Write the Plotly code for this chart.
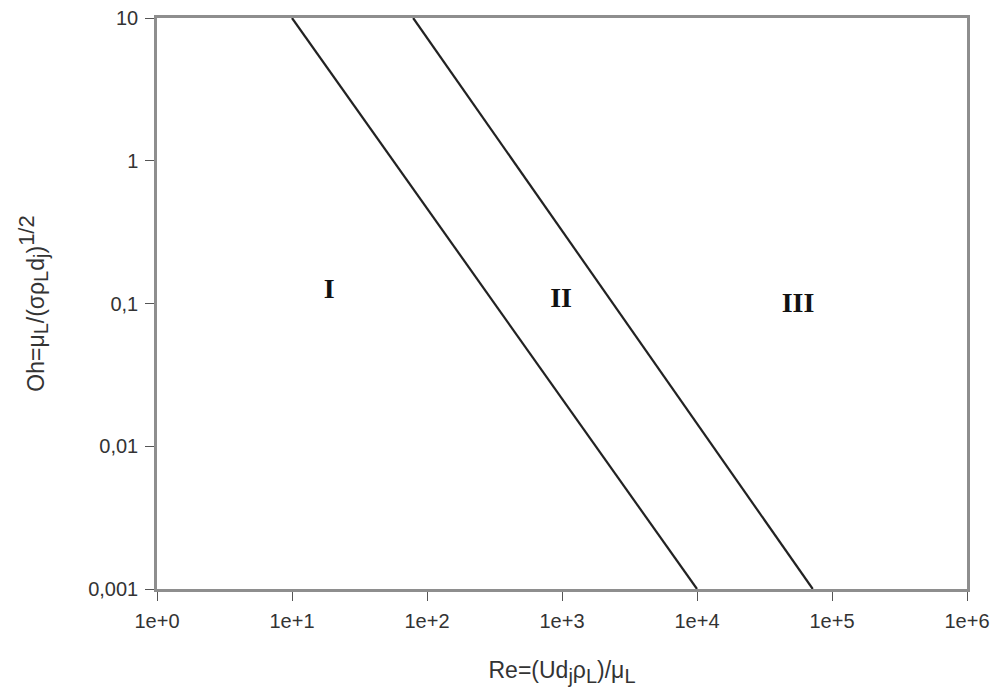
import plotly.graph_objects as go

# Regime boundaries on the Ohnesorge chart (Re, Oh endpoints)
boundary1_re = [10, 1.0e4]
boundary1_oh = [10, 0.001]
boundary2_re = [79, 7.2e4]
boundary2_oh = [10, 0.001]

# Regime labels
regime_names = ["I", "II", "III"]
regime_re = [18.9, 985, 5.6e4]
regime_oh = [0.122, 0.106, 0.0975]

x_tickvals = [1, 10, 100, 1e3, 1e4, 1e5, 1e6]
x_ticktext = ["1e+0", "1e+1", "1e+2", "1e+3", "1e+4", "1e+5", "1e+6"]
y_tickvals = [0.001, 0.01, 0.1, 1, 10]
y_ticktext = ["0,001", "0,01", "0,1", "1", "10"]

SUB = "<sub><span style='font-size:20px'>{}</span></sub>"
x_title = "Re=(Ud" + SUB.format("j") + "ρ" + SUB.format("L") + ")/μ" + SUB.format("L")
y_title = ("Oh=μ" + SUB.format("L") + "/(σρ" + SUB.format("L") + "d" + SUB.format("j")
           + ")<sup><span style='font-size:22px'>1/2</span></sup>")

fig = go.Figure()
for xs, ys in [(boundary1_re, boundary1_oh), (boundary2_re, boundary2_oh)]:
    fig.add_trace(go.Scatter(x=xs, y=ys, mode="lines",
                             line=dict(color="#222222", width=2.2),
                             showlegend=False, hoverinfo="skip"))

fig.add_trace(go.Scatter(x=regime_re, y=regime_oh, mode="text", text=regime_names,
                         textfont=dict(family="Liberation Serif", size=28, color="#111111"),
                         texttemplate="<b>%{text}</b>",
                         showlegend=False, hoverinfo="skip"))

axis_common = dict(showgrid=False, zeroline=False, showline=True, mirror=True,
                   linecolor="#8e8e8e", linewidth=2.5, ticks="outside",
                   tickcolor="#555555", ticklen=9, tickwidth=1.2, automargin=False,
                   tickfont=dict(family="Liberation Sans", size=20, color="#333333"))

title_font = dict(family="Liberation Sans", size=23, color="#333333")

fig.update_xaxes(type="log", range=[0, 6], tickvals=x_tickvals, ticktext=x_ticktext,
                 title=dict(text=x_title, font=title_font, standoff=32),
                 ticklabelstandoff=3,
                 **axis_common)
fig.update_yaxes(type="log", range=[-3, 1], tickvals=y_tickvals, ticktext=y_ticktext,
                 title=dict(text=y_title, font=title_font, standoff=38),
                 ticklabelstandoff=3,
                 **axis_common)

fig.update_layout(width=996, height=696, margin=dict(l=157, r=29, t=18, b=107),
                  plot_bgcolor="white", paper_bgcolor="white")

fig.write_html("out.html")
